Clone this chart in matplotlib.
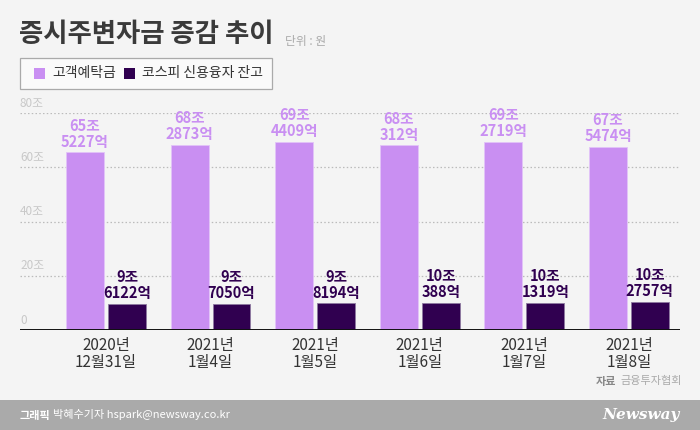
import matplotlib
matplotlib.use("Agg")
import matplotlib.pyplot as plt
from matplotlib.patches import Rectangle
import matplotlib.transforms as mtransforms

plt.rcParams['font.family'] = ['Noto Sans CJK KR', 'DejaVu Sans']

categories = ["2020년\n12월31일", "2021년\n1월4일", "2021년\n1월5일",
              "2021년\n1월6일", "2021년\n1월7일", "2021년\n1월8일"]
deposit = [65.5227, 68.2873, 69.4409, 68.0312, 69.2719, 67.5474]
credit = [9.6122, 9.7050, 9.8194, 10.0388, 10.1319, 10.2757]
deposit_labels = ["65조\n5227억", "68조\n2873억", "69조\n4409억",
                  "68조\n312억", "69조\n2719억", "67조\n5474억"]
credit_labels = ["9조\n6122억", "9조\n7050억", "9조\n8194억",
                 "10조\n388억", "10조\n1319억", "10조\n2757억"]
yticks = [0, 20, 40, 60, 80]
ytick_labels = ["0", "20조", "40조", "60조", "80조"]
series_names = ["고객예탁금", "코스피 신용융자 잔고"]

light = "#C98FF2"
dark = "#300050"
bg = "#F4F4F4"

W, H = 700, 430
fig = plt.figure(figsize=(7, 4.3), dpi=100)
fig.patch.set_facecolor(bg)

# axes: px 20..680 horizontally, baseline at y=330, 80 at y=113
ax = fig.add_axes([20 / W, (H - 330) / H, 660 / W, (330 - 113) / H])
ax.set_facecolor(bg)
ax.set_ylim(0, 80)
ax.set_xlim(-0.822, 5.488)
for s in ax.spines.values():
    s.set_visible(False)
ax.set_xticks([])
ax.set_yticks([])

trans = mtransforms.blended_transform_factory(ax.transAxes, ax.transData)
for v, lab in zip(yticks, ytick_labels):
    if v > 0:
        ax.axhline(v, color="#BBBBBB", lw=0.9, ls=(0, (1.2, 1.8)), zorder=0)
    ax.text(0.0, v + 1.2, lab, transform=trans, ha="left", va="bottom",
            fontsize=8.5, color="#C8C8C8")
ax.axhline(0, color="#111111", lw=1.4, zorder=3)

off = 0.2
bw = 0.363
xs = list(range(len(categories)))
ax.bar([x - off for x in xs], deposit, width=bw, color=light, zorder=2,
       edgecolor="#E2C4F8", linewidth=0.6)
ax.bar([x + off for x in xs], credit, width=bw, color=dark, zorder=2,
       edgecolor="#8E7AA0", linewidth=0.6)

for x, v, lab in zip(xs, deposit, deposit_labels):
    ax.text(x - off, v + 1.0, lab, ha="center", va="bottom", fontsize=10.5,
            color=light, fontweight="bold", linespacing=1.0)
for x, v, lab in zip(xs, credit, credit_labels):
    ax.text(x + off, v + 1.0, lab, ha="center", va="bottom", fontsize=10.5,
            color=dark, fontweight="bold", linespacing=1.0)

for x, lab in zip(xs, categories):
    ax.text(x, -2.5, lab, ha="center", va="top", fontsize=11,
            color="#333333", linespacing=1.05)

# title
fig.text(19 / W, 1 - 34 / H, "증시주변자금 증감 추이", ha="left", va="center",
         fontsize=19, fontweight="heavy", color="#3A3A3A")
fig.text(285 / W, 1 - 42 / H, "단위 : 원", ha="left", va="center",
         fontsize=8.5, color="#AAAAAA")

# legend box
fig.add_artist(Rectangle((20 / W, 1 - 89 / H), 252 / W, 31 / H,
                         transform=fig.transFigure, facecolor="#FAFAFA",
                         edgecolor="#AAAAAA", lw=0.9))
fig.add_artist(Rectangle((34 / W, 1 - 79 / H), 11 / W, 11 / H,
                         transform=fig.transFigure, facecolor=light, lw=0))
fig.text(52 / W, 1 - 73 / H, series_names[0], ha="left", va="center",
         fontsize=10, color="#333333")
fig.add_artist(Rectangle((124 / W, 1 - 79 / H), 11 / W, 11 / H,
                         transform=fig.transFigure, facecolor=dark, lw=0))
fig.text(142 / W, 1 - 73 / H, series_names[1], ha="left", va="center",
         fontsize=10, color="#333333")

# source
fig.text(616 / W, 1 - 381 / H, "자료", ha="right", va="center",
         fontsize=8, fontweight="bold", color="#888888")
fig.text(620 / W, 1 - 381 / H, "금융투자협회", ha="left", va="center",
         fontsize=8, color="#AAAAAA")

# footer
fig.add_artist(Rectangle((0, 0), 1, 30 / H, transform=fig.transFigure,
                         facecolor="#AAAAAA", lw=0))
fig.text(20 / W, 15 / H, "그래픽", ha="left", va="center", fontsize=8,
         fontweight="bold", color="white")
fig.text(53 / W, 15 / H, "박혜수기자 hspark@newsway.co.kr", ha="left",
         va="center", fontsize=8, color="white")
fig.text(680 / W, 15 / H, "Newsway", ha="right", va="center", fontsize=11,
         fontweight="bold", fontstyle="italic", color="white",
         family=["DejaVu Serif"])

fig.savefig("out.png", dpi=100, facecolor=bg)
